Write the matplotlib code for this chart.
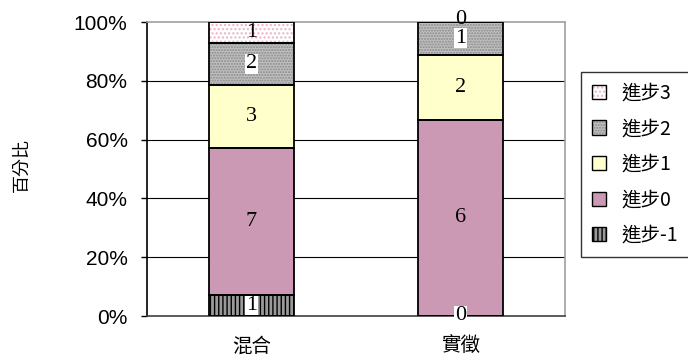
import matplotlib
matplotlib.use("Agg")
import matplotlib.pyplot as plt
from matplotlib.patches import Patch
import numpy as np

categories = ["混合", "實徵"]
series_names = ["進步-1", "進步0", "進步1", "進步2", "進步3"]
counts_mixed = [1, 7, 3, 2, 1]
counts_empirical = [0, 6, 2, 1, 0]
yticks = [0, 20, 40, 60, 80, 100]
ytick_labels = ["0%", "20%", "40%", "60%", "80%", "100%"]
ylabel = "百分比"

styles = {
    "進步-1": dict(facecolor="#9a9a9a", hatch="||||", hatchcolor="#000000"),
    "進步0": dict(facecolor="#cc99b5", hatch=None, hatchcolor=None),
    "進步1": dict(facecolor="#ffffcc", hatch=None, hatchcolor=None),
    "進步2": dict(facecolor="#c0c0c0", hatch="......", hatchcolor="#8a8a8a"),
    "進步3": dict(facecolor="#ffffff", hatch="....", hatchcolor="#f0b0c0"),
}
boxed = {(0, "進步-1"), (0, "進步2"), (1, "進步-1"), (1, "進步2")}

cjk = ["Noto Sans CJK TC", "DejaVu Sans"]
serif = ["Liberation Serif", "DejaVu Serif"]

fig = plt.figure(figsize=(6.88, 3.6), dpi=100)
ax = fig.add_axes([147/688, 1-316/360, (565-147)/688, (316-22)/360])

data = np.array([counts_mixed, counts_empirical], dtype=float)
totals = data.sum(axis=1)
pct = data / totals[:, None] * 100
x = np.arange(len(categories))
width = 0.41

bottom = np.zeros(len(categories))
for j, name in enumerate(series_names):
    st = styles[name]
    vals = pct[:, j]
    if st["hatch"]:
        ax.bar(x, vals, width, bottom=bottom, color=st["facecolor"],
               edgecolor=st["hatchcolor"], hatch=st["hatch"], linewidth=0, zorder=2)
    else:
        ax.bar(x, vals, width, bottom=bottom, color=st["facecolor"], linewidth=0, zorder=2)
    ax.bar(x, vals, width, bottom=bottom, fill=False, edgecolor="black",
           linewidth=1.3, zorder=3)
    for i in range(len(categories)):
        yc = bottom[i] + vals[i] / 2
        txt = f"{int(data[i, j])}"
        kw = dict(ha="center", va="center", fontsize=16, family=serif, zorder=5)
        if data[i, j] == 0 and bottom[i] > 99:
            kw["va"] = "bottom"
            yc = 97.5
        if (data[i, j] == 0 and bottom[i] < 1) or (data[i, j] != 0 and (i, name) in boxed):
            kw["bbox"] = dict(facecolor="white", edgecolor="none", pad=0.3)
        ax.text(x[i], yc, txt, **kw)
    bottom += vals

ax.set_xlim(-0.5, 1.5)
ax.set_ylim(0, 100)
ax.set_yticks(yticks)
ax.set_yticklabels(ytick_labels, fontsize=15, family=["Liberation Sans", "DejaVu Sans"])
ax.set_xticks(x)
ax.set_xticklabels(categories, fontsize=14, family=cjk)
ax.tick_params(axis="x", length=0, pad=14)
ax.tick_params(axis="y", length=4, pad=10, width=1)
for yv in yticks[1:-1]:
    ax.axhline(yv, color="#000000", linewidth=0.8, zorder=1)
ax.spines["top"].set_color("#a0a0a0")
ax.spines["right"].set_color("#a0a0a0")
ax.spines["left"].set_color("#000000")
ax.spines["bottom"].set_color("#404040")
for s in ax.spines.values():
    s.set_linewidth(1.2)

fig.text(22/688, 1-165/360, ylabel, rotation=90, ha="center", va="center",
         fontsize=13, family=cjk)

handles = []
for name in reversed(series_names):
    st = styles[name]
    if st["hatch"]:
        fillp = Patch(facecolor=st["facecolor"], edgecolor=st["hatchcolor"],
                      hatch=st["hatch"], linewidth=0)
    else:
        fillp = Patch(facecolor=st["facecolor"], linewidth=0)
    outline = Patch(fill=False, edgecolor="#000000", linewidth=1.0)
    handles.append((fillp, outline))
leg = fig.legend(handles, list(reversed(series_names)), loc="upper left",
                 bbox_to_anchor=(581/688, 1-72/360), frameon=True, fancybox=False,
                 prop={"family": cjk, "size": 14}, labelspacing=0.75,
                 handlelength=0.75, handleheight=0.75, handletextpad=0.8,
                 borderpad=0.55, borderaxespad=0)
leg.get_frame().set_edgecolor("#000000")
leg.get_frame().set_linewidth(1.0)

fig.savefig("out.png", dpi=100)
